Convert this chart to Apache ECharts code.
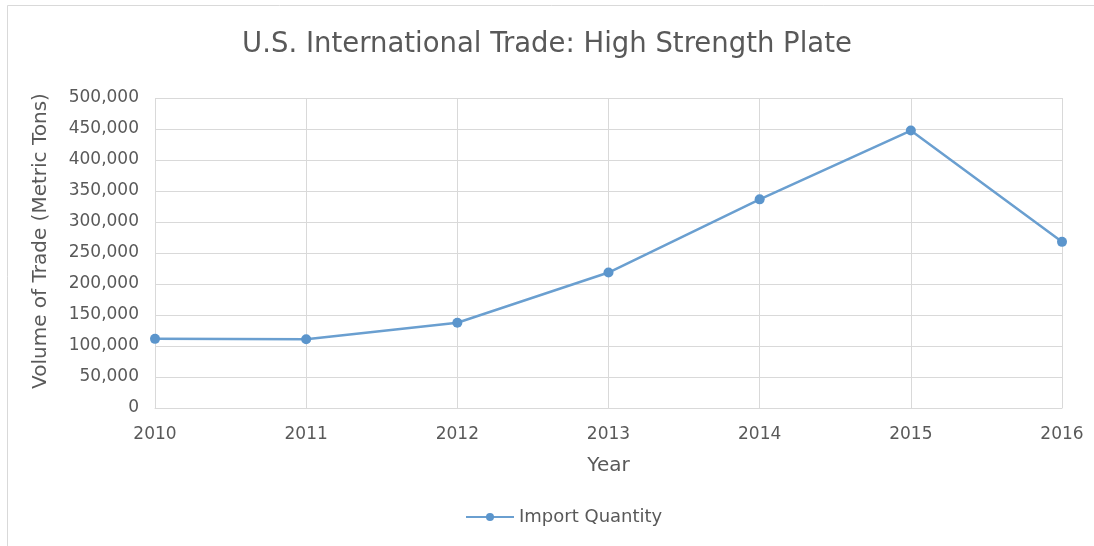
<!DOCTYPE html>
<html>
<head>
<meta charset="utf-8">
<script src="https://cdn.jsdelivr.net/npm/echarts@6/dist/echarts.min.js"></script>
<style>
  html, body { margin: 0; padding: 0; background: #fff; }
  #chart { width: 1094px; height: 546px; }
</style>
</head>
<body>
<div id="chart"></div>
<script>
// Annual import volume of high strength plate, metric tons
const years = ['2010', '2011', '2012', '2013', '2014', '2015', '2016'];
const importQuantity = [111500, 110800, 137500, 218500, 336500, 447500, 268000];
const seriesName = 'Import Quantity';

const textColor = '#595959';
const font = '"DejaVu Sans", "Open Sans", sans-serif';

const chart = echarts.init(document.getElementById('chart'), null, { renderer: 'canvas' });
chart.setOption({
  backgroundColor: '#ffffff',
  animation: false,
  title: {
    text: 'U.S. International Trade: High Strength Plate',
    left: 'center',
    top: 26,
    textStyle: { color: textColor, fontFamily: font, fontSize: 27.5, fontWeight: 'normal' }
  },
  graphic: [{
    type: 'rect',
    shape: { x: 7.5, y: 5.5, width: 1200, height: 700 },
    style: { fill: 'none', stroke: '#d9d9d9', lineWidth: 1 },
    silent: true,
    z: -1
  }],
  legend: {
    data: [seriesName],
    bottom: 15,
    left: 460,
    itemWidth: 48,
    itemHeight: 10,
    itemGap: 6,
    textStyle: { color: textColor, fontFamily: font, fontSize: 18 }
  },
  grid: { left: 155, right: 32, top: 98, bottom: 138 },
  xAxis: {
    type: 'category',
    data: years,
    boundaryGap: false,
    name: 'Year',
    nameLocation: 'middle',
    nameGap: 48,
    nameTextStyle: { color: textColor, fontFamily: font, fontSize: 20 },
    axisLine: { lineStyle: { color: '#d9d9d9' } },
    axisTick: { show: false },
    axisLabel: { color: textColor, fontFamily: font, fontSize: 17, margin: 18 },
    splitLine: { show: true, lineStyle: { color: '#d9d9d9' } }
  },
  yAxis: {
    type: 'value',
    min: 0,
    max: 500000,
    interval: 50000,
    name: 'Volume of Trade (Metric Tons)',
    nameLocation: 'middle',
    nameGap: 104,
    nameTextStyle: { color: textColor, fontFamily: font, fontSize: 20, padding: [0, 0, 0, 24] },
    axisLine: { show: false },
    axisTick: { show: false },
    axisLabel: {
      color: textColor, fontFamily: font, fontSize: 17, margin: 16,
      formatter: v => v.toLocaleString('en-US')
    },
    splitLine: { lineStyle: { color: '#d9d9d9' } }
  },
  series: [{
    name: seriesName,
    type: 'line',
    data: importQuantity,
    symbol: 'circle',
    symbolSize: 10,
    lineStyle: { color: '#6a9fd0', width: 2.5 },
    itemStyle: { color: '#5b95cc' }
  }]
});
</script>
</body>
</html>
